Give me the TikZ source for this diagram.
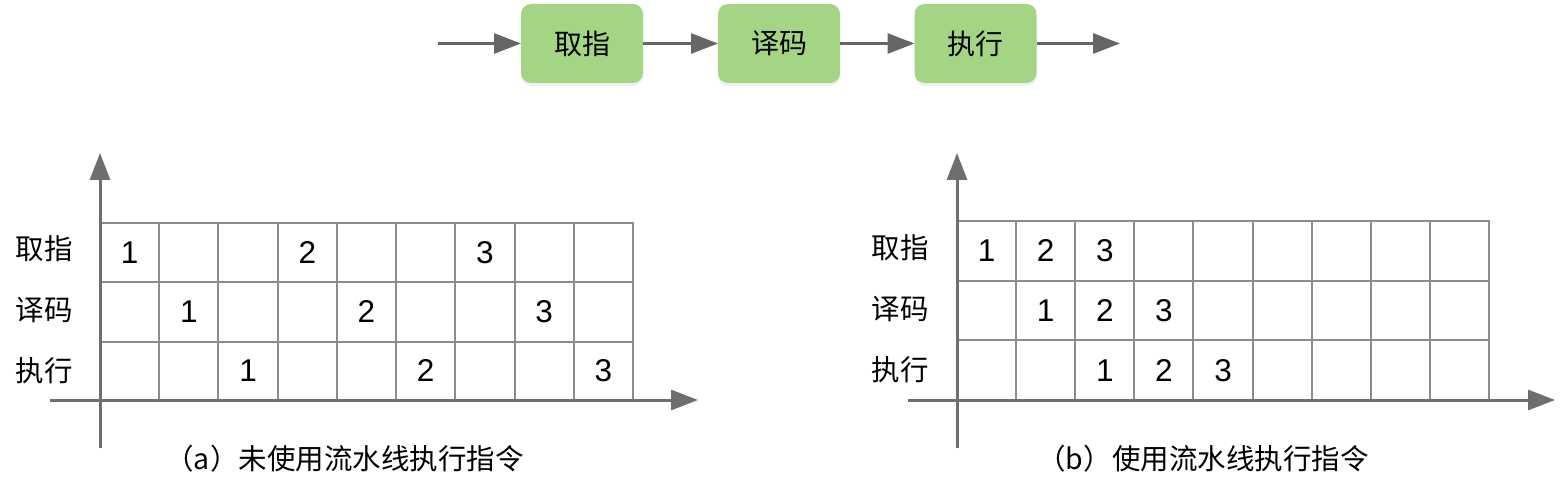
\documentclass[tikz,border=0pt]{standalone}
\usepackage{fontspec}
\setmainfont{Liberation Sans}
\newfontfamily\cjk{Noto Sans CJK SC}
\usetikzlibrary{arrows.meta,shadows}
\definecolor{boxgreen}{HTML}{A3D585}
\definecolor{axisgray}{HTML}{6E6E6E}
\definecolor{gridgray}{HTML}{8C8C8C}
\definecolor{arrgray}{HTML}{666666}
\begin{document}
\begin{tikzpicture}[x=1pt,y=-1pt,
  stagebox/.style={fill=boxgreen, rounded corners=10pt, minimum width=122pt, minimum height=79pt,
    inner sep=0pt, outer sep=0pt, font=\cjk\fontsize{28}{32}\selectfont,
    drop shadow={opacity=0.12, shadow xshift=0pt, shadow yshift=-3pt}},
  flow/.style={draw=arrgray, line width=3pt, -{Triangle[length=27pt,width=20pt]}},
  axisline/.style={draw=axisgray, line width=3pt, -{Triangle[length=27pt,width=20pt]}},
  gridline/.style={draw=gridgray, line width=2pt, line cap=rect},
  rowlab/.style={font=\cjk\fontsize{28.5}{32}\selectfont, anchor=east, inner sep=0pt},
  num/.style={font=\fontsize{31.5}{34}\selectfont, anchor=base, inner sep=0pt},
  captext/.style={font=\cjk\fontsize{28.5}{32}\selectfont, inner sep=0pt}]
\useasboundingbox (0,0) rectangle (1560,489);

% ---------- top flow ----------
\node[stagebox] (s1) at (582,43.5) {取指};
\node[stagebox] (s2) at (779,43.5) {译码};
\node[stagebox] (s3) at (975.5,43.5) {执行};
\coordinate (fin) at (438,43.5);
\coordinate (fout) at (1120,43.5);
\draw[flow] (fin) -- (s1);
\draw[flow] (s1) -- (s2);
\draw[flow] (s2) -- (s3);
\draw[flow] (s3) -- (fout);

% ---------- left chart (a) ----------
\foreach \i in {0,...,9}
  \draw[gridline] ({100+\i*59.222},223) -- ({100+\i*59.222},400);
\foreach \y in {223,282,341.5}
  \draw[gridline] (100,\y) -- (633,\y);
\coordinate (ay0) at (100,448);
\coordinate (ay1) at (100,153);
\coordinate (ax0) at (50,400);
\coordinate (ax1) at (698,400);
\draw[axisline] (ay0) -- (ay1);
\draw[axisline] (ax0) -- (ax1);
\node[rowlab] (al1) at (73,249) {取指};
\node[rowlab] (al2) at (73,310) {译码};
\node[rowlab] (al3) at (73,371) {执行};
% numbers: row r, column c -> centre (100+(c-0.5)*59.222, rowcentre)
\foreach \r/\yc in {1/252.5,2/311.75,3/370.75}{
  \foreach \k in {1,2,3}{
    \pgfmathtruncatemacro{\c}{(\k-1)*3+\r}
    \node[num] (an\r\k) at ({100+(\c-0.5)*59.222},{\yc+11.2}) {\k};
  }
}
\node[captext] (capa) at (344.5,459) {（a）未使用流水线执行指令};

% ---------- right chart (b) ----------
\foreach \i in {0,...,9}
  \draw[gridline] ({957+\i*59.111},221) -- ({957+\i*59.111},400);
\foreach \y in {221,280.5,340}
  \draw[gridline] (957,\y) -- (1489,\y);
\coordinate (by0) at (957,448);
\coordinate (by1) at (957,153);
\coordinate (bx0) at (908,400);
\coordinate (bx1) at (1555,400);
\draw[axisline] (by0) -- (by1);
\draw[axisline] (bx0) -- (bx1);
\node[rowlab] (bl1) at (929,248) {取指};
\node[rowlab] (bl2) at (929,309) {译码};
\node[rowlab] (bl3) at (929,370) {执行};
\foreach \r/\yc in {1/250.75,2/310.25,3/370}{
  \foreach \k in {1,2,3}{
    \pgfmathtruncatemacro{\c}{\r+\k-1}
    \node[num] (bn\r\k) at ({957+(\c-0.5)*59.111},{\yc+11.2}) {\k};
  }
}
\node[captext] (capb) at (1203,459) {（b）使用流水线执行指令};
\end{tikzpicture}
\end{document}
